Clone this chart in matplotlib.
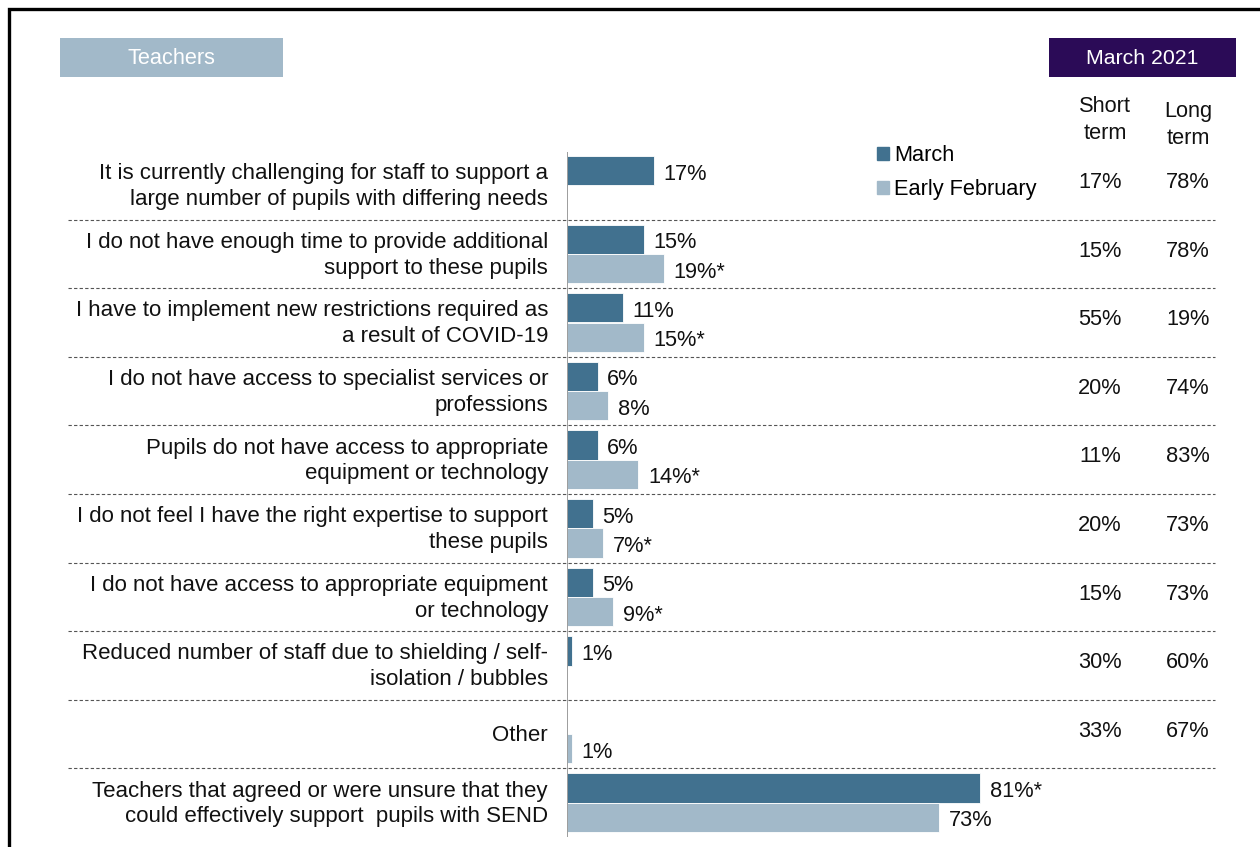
"""send_barriers.py - Barriers to supporting pupils with SEND (teachers)"""

import matplotlib
matplotlib.use("Agg")
import matplotlib.pyplot as plt
from matplotlib.patches import Rectangle
from matplotlib.transforms import blended_transform_factory

plt.rcParams['font.family'] = ['Liberation Sans', 'DejaVu Sans']

# Categories, top to bottom
categories = [
    "It is currently challenging for staff to support a\nlarge number of pupils with differing needs",
    "I do not have enough time to provide additional\nsupport to these pupils",
    "I have to implement new restrictions required as\na result of COVID-19",
    "I do not have access to specialist services or\nprofessions",
    "Pupils do not have access to appropriate\nequipment or technology",
    "I do not feel I have the right expertise to support\nthese pupils",
    "I do not have access to appropriate equipment\nor technology",
    "Reduced number of staff due to shielding / self-\nisolation / bubbles",
    "Other",
    "Teachers that agreed or were unsure that they\ncould effectively support  pupils with SEND",
]

# Share of teachers (%) - None where the option was not asked
march = [17, 15, 11, 6, 6, 5, 5, 1, None, 81]
early_feb = [None, 19, 15, 8, 14, 7, 9, None, 1, 73]

# Statistically significant differences flagged with *
march_sig = [False, False, False, False, False, False, False, False, False, True]
feb_sig = [False, True, True, False, True, True, True, False, False, False]

# Short term / long term split, March 2021
short_term = [17, 15, 55, 20, 11, 20, 15, 30, 33, None]
long_term = [78, 78, 19, 74, 83, 73, 73, 60, 67, None]

MARCH_COLOR = '#41718f'
FEB_COLOR = '#a2b9c9'
PURPLE = '#2b0b57'
TEXT = '#111111'
FS = 15.7

W, H = 1260, 847
fig = plt.figure(figsize=(W / 100, H / 100), dpi=100)

"""Bar panel: x in percent (5.1 px per point), y in row units"""
x0_px = 567
px_per_pct = 5.1
row_px = 68.6
first_row_px = 185.3
ax = fig.add_axes([x0_px / W, 0, (W - x0_px) / W, 1])
ax.set_xlim(0, (W - x0_px) / px_per_pct)
ax.set_ylim((H - first_row_px) / row_px, -first_row_px / row_px)
ax.axis('off')

bar_h = 29.3 / row_px
n = len(categories)
for i in range(n):
    for val, sig, off, col in [(march[i], march_sig[i], -bar_h / 2, MARCH_COLOR),
                               (early_feb[i], feb_sig[i], bar_h / 2, FEB_COLOR)]:
        if val is None:
            continue
        ax.barh(i + off, val, height=bar_h, color=col, edgecolor='white', linewidth=0.6)
        ax.annotate(f"{val}%" + ("*" if sig else ""), (val, i + off),
                    xytext=(7, -2.5), textcoords='offset points',
                    va='center', ha='left', fontsize=FS, color=TEXT)

# Vertical baseline
ax.vlines(0, -0.49, n - 0.5, color='#8c8c8c', linewidth=1.2)

"""Texts placed in figure x, row y"""
tr = blended_transform_factory(fig.transFigure, ax.transData)

for i, cat in enumerate(categories):
    fig.text(548 / W, i + 0.02, cat, transform=tr, ha='right', va='center',
             fontsize=16, color=TEXT, linespacing=1.3)
    if short_term[i] is not None:
        fig.text(1100 / W, i - 0.04, f"{short_term[i]}%", transform=tr,
                 ha='center', va='center', fontsize=FS, color=TEXT)
        fig.text(1188 / W, i - 0.04, f"{long_term[i]}%", transform=tr,
                 ha='center', va='center', fontsize=FS, color=TEXT)

# Dashed separators between rows
for i in range(n - 1):
    ax.plot([68 / W, 1215 / W], [i + 0.5, i + 0.5], transform=tr,
            color='#555555', linewidth=0.8, dashes=(3, 2), clip_on=False)

# Column headers
fig.text(1105 / W, 1 - 120 / H, "Short\nterm", ha='center', va='center',
         fontsize=FS, color=TEXT, linespacing=1.33)
fig.text(1188 / W, 1 - 125 / H, "Long\nterm", ha='center', va='center',
         fontsize=FS, color=TEXT, linespacing=1.33)

# Title boxes
fig.add_artist(Rectangle((60 / W, 1 - 77 / H), 223 / W, 39 / H,
                         transform=fig.transFigure, color=FEB_COLOR, linewidth=0))
fig.text(171.5 / W, 1 - 59 / H, "Teachers", ha='center', va='center',
         fontsize=FS, color='white')
fig.add_artist(Rectangle((1049 / W, 1 - 77 / H), 187 / W, 39 / H,
                         transform=fig.transFigure, color=PURPLE, linewidth=0))
fig.text(1142.5 / W, 1 - 59 / H, "March 2021", ha='center', va='center',
         fontsize=15.3, color='white')

# Legend
handles = [Rectangle((0, 0), 1, 1, color=MARCH_COLOR),
           Rectangle((0, 0), 1, 1, color=FEB_COLOR)]
fig.legend(handles, ["March", "Early February"], loc='upper left',
           bbox_to_anchor=(877 / W, 1 - 145 / H), frameon=False, fontsize=FS,
           handlelength=0.55, handleheight=0.55, handletextpad=0.23,
           labelspacing=0.6, borderpad=0, borderaxespad=0)

# Frame line on the left and top
fig.add_artist(Rectangle((9 / W, -0.1), 1.2, 1.1 - 9 / H, transform=fig.transFigure,
                         fill=False, edgecolor='black', linewidth=2.4))

fig.savefig("out.png", dpi=100, facecolor='white')
